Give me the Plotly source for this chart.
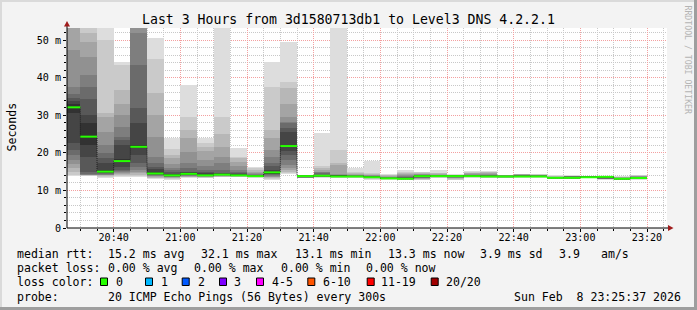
import plotly.graph_objects as go
import pandas as pd

# ---------------- data ----------------
TITLE = "Last 3 Hours from 3d1580713db1 to Level3 DNS 4.2.2.1"
BAR_END = pd.date_range("2026-02-08 20:30", "2026-02-08 23:20", freq="5min")
X_RANGE = ["2026-02-08 20:26:00", "2026-02-08 23:26:00"]

MEDIAN = [32.1, 24.3, 15.0, 17.8, 21.6, 14.5, 14.0, 14.4, 14.0, 14.2,
          14.0, 13.8, 14.8, 21.8, 13.8, 13.9, 13.7, 13.7, 13.5, 13.2,
          13.1, 13.8, 13.8, 13.8, 13.8, 13.7, 13.7, 13.7, 13.7, 13.35,
          13.35, 13.5, 13.6, 13.1, 13.3]

# 20 sorted ping rtts (ms) per 5-minute step
PINGS = [
    [13.8, 14.2, 15.0, 15.9, 17.0, 18.1, 19.5, 20.7, 22.5, 30.5, 33.0, 33.8, 34.7, 35.6, 37.4, 47.3, 58, 64, 72, 85],
    [13.8, 13.9, 14.0, 14.05, 14.1, 14.2, 14.3, 15.0, 19.0, 22.1, 27.8, 30.1, 34.3, 37.6, 40.7, 45.6, 49.6, 51.9, 55, 60],
    [13.4, 13.6, 13.8, 14.0, 14.1, 14.2, 14.4, 14.5, 14.7, 14.9, 15.4, 17.2, 18.5, 19.9, 22.0, 25.6, 29.6, 30.5, 50.0, 56.0],
    [13.6, 13.8, 14.0, 14.3, 14.5, 14.8, 15.1, 15.4, 16.3, 17.5, 18.4, 22.1, 23.4, 24.3, 27.0, 30.1, 33.0, 36.7, 43.4, 44.2],
    [13.5, 13.8, 14.1, 14.5, 15.0, 15.4, 16.3, 17.2, 19.4, 21.2, 22.1, 27.8, 31.8, 43.4, 51.8, 58, 62, 66, 70, 75],
    [13.0, 13.2, 13.4, 13.6, 13.8, 13.9, 14.0, 14.1, 14.3, 14.4, 14.7, 15.6, 16.3, 17.4, 19.0, 24.3, 30.0, 35.8, 44.9, 50.5],
    [12.8, 13.0, 13.2, 13.4, 13.5, 13.6, 13.7, 13.8, 13.85, 13.9, 14.1, 14.4, 14.8, 15.3, 16.0, 17.0, 18.5, 19.5, 21.0, 24.0],
    [13.3, 13.5, 13.6, 13.7, 13.8, 13.9, 14.0, 14.1, 14.2, 14.3, 14.5, 14.8, 15.0, 16.0, 17.2, 20.3, 24.0, 26.1, 29.6, 38.0],
    [13.2, 13.4, 13.5, 13.6, 13.7, 13.75, 13.8, 13.85, 13.9, 13.95, 14.1, 14.5, 15.0, 15.5, 16.5, 18.0, 20.5, 21.5, 22.5, 24.0],
    [13.5, 13.6, 13.7, 13.8, 13.9, 14.0, 14.05, 14.1, 14.15, 14.2, 14.3, 14.5, 14.7, 15.5, 17.2, 19.0, 21.6, 25.0, 29.6, 58.0],
    [13.5, 13.6, 13.7, 13.8, 13.85, 13.9, 13.95, 14.0, 14.0, 14.0, 14.1, 14.3, 14.6, 15.0, 15.5, 16.5, 17.5, 18.5, 19.0, 21.2],
    [13.4, 13.5, 13.55, 13.6, 13.65, 13.7, 13.7, 13.75, 13.75, 13.8, 13.85, 13.9, 14.0, 14.1, 14.3, 14.6, 15.0, 15.5, 15.9, 16.3],
    [12.8, 13.1, 13.3, 13.5, 13.7, 13.9, 14.1, 14.3, 14.5, 14.6, 15.0, 15.4, 16.5, 17.2, 19.0, 20.7, 24.0, 26.1, 37.6, 44.2],
    [14.3, 14.6, 15.0, 15.4, 16.0, 16.8, 18.0, 19.4, 20.5, 21.5, 22.1, 25.6, 26.6, 27.8, 28.3, 29.6, 33.0, 37.2, 38.9, 49.6],
    [13.2, 13.3, 13.4, 13.45, 13.5, 13.55, 13.6, 13.65, 13.7, 13.75, 13.8, 13.85, 13.9, 13.9, 13.95, 14.0, 14.0, 14.05, 14.1, 14.2],
    [13.4, 13.5, 13.6, 13.65, 13.7, 13.75, 13.8, 13.8, 13.85, 13.9, 13.95, 14.0, 14.2, 14.5, 14.8, 15.0, 15.5, 16.0, 16.5, 25.3],
    [13.3, 13.4, 13.5, 13.55, 13.6, 13.65, 13.7, 13.7, 13.75, 13.8, 13.85, 13.9, 14.0, 14.1, 14.2, 14.3, 16.8, 17.2, 20.7, 58.0],
    [13.3, 13.4, 13.5, 13.55, 13.6, 13.62, 13.65, 13.67, 13.69, 13.7, 13.72, 13.75, 13.8, 13.9, 14.0, 14.2, 14.4, 14.6, 14.8, 15.9],
    [12.8, 13.0, 13.2, 13.3, 13.35, 13.4, 13.42, 13.45, 13.48, 13.5, 13.55, 13.6, 13.7, 13.8, 13.9, 14.0, 14.1, 14.3, 14.6, 17.9],
    [12.9, 13.0, 13.05, 13.1, 13.12, 13.15, 13.17, 13.18, 13.19, 13.2, 13.22, 13.25, 13.3, 13.4, 13.5, 13.7, 13.9, 14.0, 14.2, 14.4],
    [12.7, 12.8, 12.9, 12.95, 13.0, 13.02, 13.05, 13.07, 13.08, 13.1, 13.12, 13.2, 13.4, 13.6, 13.8, 14.0, 14.3, 14.6, 14.8, 15.4],
    [12.8, 12.9, 13.0, 13.1, 13.2, 13.3, 13.4, 13.5, 13.6, 13.75, 13.85, 13.95, 14.05, 14.1, 14.2, 14.3, 14.4, 14.6, 14.8, 15.0],
    [13.2, 13.4, 13.5, 13.6, 13.65, 13.7, 13.72, 13.75, 13.78, 13.8, 13.82, 13.85, 13.9, 14.0, 14.1, 14.2, 14.35, 14.5, 14.6, 15.4],
    [12.7, 12.9, 13.1, 13.3, 13.4, 13.5, 13.6, 13.65, 13.7, 13.78, 13.82, 13.86, 13.9, 13.95, 14.0, 14.05, 14.1, 14.15, 14.2, 14.3],
    [13.4, 13.5, 13.6, 13.65, 13.7, 13.72, 13.75, 13.77, 13.78, 13.8, 13.85, 13.9, 14.0, 14.1, 14.2, 14.3, 14.5, 14.7, 14.9, 15.1],
    [13.3, 13.4, 13.5, 13.55, 13.6, 13.62, 13.65, 13.67, 13.68, 13.7, 13.75, 13.8, 13.9, 14.0, 14.1, 14.3, 14.5, 14.8, 15.0, 15.2],
    [13.4, 13.45, 13.5, 13.55, 13.6, 13.62, 13.64, 13.66, 13.68, 13.7, 13.72, 13.74, 13.76, 13.8, 13.85, 13.9, 13.95, 14.0, 14.05, 14.1],
    [13.4, 13.45, 13.5, 13.55, 13.6, 13.62, 13.64, 13.66, 13.68, 13.7, 13.75, 13.8, 13.9, 14.0, 14.1, 14.2, 14.25, 14.3, 14.35, 14.4],
    [13.4, 13.45, 13.5, 13.55, 13.6, 13.62, 13.64, 13.66, 13.68, 13.7, 13.72, 13.75, 13.8, 13.85, 13.9, 14.0, 14.1, 14.2, 14.3, 14.4],
    [13.0, 13.1, 13.15, 13.2, 13.25, 13.28, 13.3, 13.32, 13.33, 13.35, 13.37, 13.4, 13.45, 13.5, 13.55, 13.6, 13.7, 13.8, 13.9, 14.1],
    [13.0, 13.1, 13.15, 13.2, 13.25, 13.28, 13.3, 13.32, 13.33, 13.35, 13.37, 13.4, 13.5, 13.6, 13.7, 13.8, 13.85, 13.9, 13.95, 14.0],
    [13.2, 13.25, 13.3, 13.35, 13.4, 13.42, 13.44, 13.46, 13.48, 13.5, 13.52, 13.55, 13.6, 13.65, 13.7, 13.75, 13.8, 13.85, 13.88, 13.9],
    [12.9, 13.0, 13.05, 13.1, 13.15, 13.2, 13.25, 13.3, 13.4, 13.55, 13.62, 13.65, 13.68, 13.7, 13.72, 13.75, 13.78, 13.8, 13.85, 13.9],
    [12.8, 12.85, 12.9, 12.95, 13.0, 13.02, 13.04, 13.06, 13.08, 13.1, 13.12, 13.15, 13.2, 13.25, 13.3, 13.4, 13.5, 13.6, 13.7, 13.8],
    [12.9, 13.0, 13.05, 13.1, 13.15, 13.2, 13.22, 13.25, 13.28, 13.3, 13.35, 13.4, 13.5, 13.6, 13.7, 13.8, 13.9, 13.95, 14.0, 14.1],
]

Y_TICK_VALS = [0, 10, 20, 30, 40, 50]
Y_TICK_TEXT = ["0", "10 m", "20 m", "30 m", "40 m", "50 m"]
Y_MAX = 53.2

RTT_LABEL = "median rtt:"
RTT_STATS = ["15.2 ms avg", "32.1 ms max", "13.1 ms min", "13.3 ms now", "3.9 ms sd", "3.9", "am/s"]
LOSS_LABEL = "packet loss:"
LOSS_STATS = ["0.00 % avg", "0.00 % max", "0.00 % min", "0.00 % now"]
LOSSCOL_LABEL = "loss color:"
LOSS_CLASSES = ["0", "1", "2", "3", "4-5", "6-10", "11-19", "20/20"]
LOSS_COLORS = ["#26ff00", "#00b8ff", "#0059ff", "#7e00ff", "#ff00ff", "#ff5500", "#ff0000", "#a10000"]
PROBE_LABEL = "probe:"
PROBE_TEXT = "20 ICMP Echo Pings (56 Bytes) every 300s"
STAMP = "Sun Feb\u00a0 8 23:25:37 2026"
WATERMARK = "RRDTOOL / TOBI OETIKER"

# ---------------- layout geometry (pixels) ----------------
W, H = 697, 310
PL, PR, PT, PB = 67, 667, 28, 228
MONO = "DejaVu Sans Mono"


def px(x):
    return (x - PL) / (PR - PL)


def py(y):
    return (PB - y) / (PB - PT)


STEP = pd.Timedelta(minutes=5)
centers = BAR_END - STEP / 2
starts = BAR_END - STEP

fig = go.Figure()

# smoke: nested bands, outermost (lightest) first
npings = len(PINGS[0])
half = npings // 2
for i in range(1, half + 1):
    g = int(190 / half * (half - i)) + 50
    col = "#%02x%02x%02x" % (g, g, g)
    lo = [p[i - 1] for p in PINGS]
    hi = [p[npings - i] for p in PINGS]
    fig.add_trace(go.Bar(
        x=centers, base=lo, y=[h - l for h, l in zip(hi, lo)],
        width=STEP.total_seconds() * 1000, marker=dict(color=col, line=dict(width=0)),
        showlegend=False, hoverinfo="skip"))

# thin dark median step line
fig.add_trace(go.Scatter(
    x=list(starts) + [BAR_END[-1]], y=MEDIAN + [MEDIAN[-1]],
    mode="lines", line=dict(shape="hv", color="#202020", width=1, dash="1px,1px"),
    showlegend=False, hoverinfo="skip"))

# green median segments (loss 0)
gx, gy = [], []
for s, e, m in zip(starts, BAR_END, MEDIAN):
    gx += [s, e, None]
    gy += [m, m, None]
fig.add_trace(go.Scatter(
    x=gx, y=gy, mode="lines", line=dict(color=LOSS_COLORS[0], width=2),
    showlegend=False, hoverinfo="skip"))

MAJ_GRID = "#f3a0a0"
MIN_GRID = "#c8c8c8"

fig.update_layout(
    width=W, height=H,
    margin=dict(l=PL, r=W - PR, t=PT, b=H - PB, pad=0),
    paper_bgcolor="#f3f3f3", plot_bgcolor="#ffffff",
    barmode="overlay", bargap=0, showlegend=False,
    font=dict(family=MONO, color="#000000"),
    xaxis=dict(
        type="date", range=X_RANGE,
        tickmode="linear", tick0="2026-02-08 20:40", dtick=20 * 60 * 1000,
        tickformat="%H:%M", tickfont=dict(family=MONO, size=10.1, color="#000"),
        ticks="outside", ticklen=3, tickcolor="#000", tickwidth=1,
        ticklabelstandoff=-3,
        showgrid=True, gridcolor=MAJ_GRID, griddash="1px,1px", gridwidth=1,
        minor=dict(tickmode="linear", tick0="2026-02-08 20:40", dtick=5 * 60 * 1000,
                   showgrid=True, gridcolor=MIN_GRID, griddash="1px,1px",
                   ticks="outside", ticklen=2, tickcolor="#000"),
        showline=False, zeroline=False, fixedrange=True,
    ),
    yaxis=dict(
        range=[0, Y_MAX], tickmode="array", tickvals=Y_TICK_VALS, ticktext=Y_TICK_TEXT,
        tickfont=dict(family=MONO, size=10.1, color="#000"),
        ticks="outside", ticklen=3, tickcolor="#000", tickwidth=1,
        ticklabelstandoff=0,
        showgrid=True, gridcolor=MAJ_GRID, griddash="1px,1px", gridwidth=1,
        minor=dict(tickmode="linear", tick0=0, dtick=2,
                   showgrid=True, gridcolor=MIN_GRID, griddash="1px,1px",
                   ticks="outside", ticklen=2, tickcolor="#000"),
        showline=False, zeroline=False, fixedrange=True,
    ),
)

shapes = []
# axes with arrows
shapes.append(dict(type="line", xref="paper", yref="paper", x0=px(PL), x1=px(668.5), y0=0, y1=0,
                   line=dict(color="#000000", width=1)))
shapes.append(dict(type="line", xref="paper", yref="paper", x0=0, x1=0, y0=0, y1=py(24.5),
                   line=dict(color="#000000", width=1)))
shapes.append(dict(type="path", xref="paper", yref="paper",
                   path="M %f %f L %f %f L %f %f Z" % (px(668), py(225), px(673.5), py(228), px(668), py(231)),
                   fillcolor="#a01c1c", line=dict(width=0)))
shapes.append(dict(type="path", xref="paper", yref="paper",
                   path="M %f %f L %f %f L %f %f Z" % (px(64), py(26.5), px(67), py(21), px(70), py(26.5)),
                   fillcolor="#a01c1c", line=dict(width=0)))
# frame (3d shading)
shapes.append(dict(type="rect", xref="paper", yref="paper", x0=px(0), x1=px(W), y0=py(0), y1=py(2),
                   fillcolor="#dadada", line=dict(width=0)))
shapes.append(dict(type="rect", xref="paper", yref="paper", x0=px(0), x1=px(2), y0=py(0), y1=py(H),
                   fillcolor="#dadada", line=dict(width=0)))
shapes.append(dict(type="rect", xref="paper", yref="paper", x0=px(W - 3), x1=px(W), y0=py(0), y1=py(H),
                   fillcolor="#9e9e9e", line=dict(width=0)))
shapes.append(dict(type="rect", xref="paper", yref="paper", x0=px(0), x1=px(W), y0=py(H - 3), y1=py(H),
                   fillcolor="#9e9e9e", line=dict(width=0)))

annotations = []


def text(x, y, s, size=11.55, color="#000000", anchor="left", angle=0):
    annotations.append(dict(x=px(x), y=py(y), xref="paper", yref="paper", text=s, showarrow=False,
                            xanchor=anchor, yanchor="middle", textangle=angle, borderpad=0,
                            font=dict(family=MONO, size=size, color=color)))


# title, unit, watermark
text(348, 19, TITLE, size=13.2, anchor="center")
text(11, 127.5, "Seconds", size=11.55, anchor="center", angle=-90)
text(687.5, 60, WATERMARK, size=8.2, color="#b4b4b4", anchor="center", angle=90)

# legend rows
ROW = [253.5, 268.3, 282.3, 297]
text(16, ROW[0], RTT_LABEL)
for x, s in zip([107.3, 200, 294, 386.5, 479.3, 557.7, 600], RTT_STATS):
    text(x, ROW[0], s)
text(16, ROW[1], LOSS_LABEL)
for x, s in zip([107.3, 193.3, 280, 365], LOSS_STATS):
    text(x, ROW[1], s)
text(16, ROW[2], LOSSCOL_LABEL)
for xs, xl, lab, col in zip([100, 145, 181.7, 219, 256, 307.3, 366.7, 430.7],
                            [115, 160, 196.7, 233.3, 270.7, 321.7, 380, 445],
                            LOSS_CLASSES, LOSS_COLORS):
    shapes.append(dict(type="rect", xref="paper", yref="paper", x0=px(xs + 0.5), x1=px(xs + 7.5),
                       y0=py(285.5), y1=py(278), fillcolor=col, line=dict(color="#000000", width=1)))
    text(xl, ROW[2], lab)
text(16, ROW[3], PROBE_LABEL)
text(107.3, ROW[3], PROBE_TEXT)
text(513.3, ROW[3], STAMP)

fig.update_layout(shapes=shapes, annotations=annotations)
fig.write_html("out.html", config={"displayModeBar": False})
